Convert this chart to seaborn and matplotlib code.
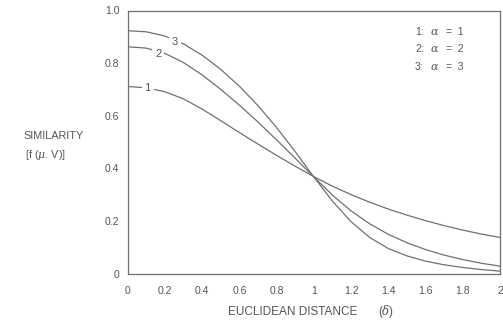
import numpy as np
import pandas as pd
import matplotlib
matplotlib.use("Agg")
import matplotlib.pyplot as plt
import seaborn as sns

distance = [0.0, 0.1, 0.2, 0.3, 0.4, 0.5, 0.6, 0.7, 0.8, 0.9, 1.0,
            1.1, 1.2, 1.3, 1.4, 1.5, 1.6, 1.7, 1.8, 1.9, 2.0]
sim_alpha1 = [0.711, 0.706, 0.691, 0.664, 0.625, 0.581, 0.536, 0.492, 0.449, 0.408, 0.368,
              0.332, 0.300, 0.271, 0.245, 0.222, 0.201, 0.182, 0.165, 0.150, 0.137]
sim_alpha2 = [0.862, 0.857, 0.837, 0.802, 0.755, 0.700, 0.640, 0.576, 0.508, 0.438, 0.367,
              0.298, 0.238, 0.189, 0.149, 0.117, 0.091, 0.070, 0.053, 0.039, 0.028]
sim_alpha3 = [0.923, 0.919, 0.903, 0.873, 0.830, 0.776, 0.712, 0.638, 0.555, 0.463, 0.367,
              0.275, 0.197, 0.137, 0.095, 0.067, 0.047, 0.033, 0.023, 0.015, 0.009]
curve_names = ["1", "2", "3"]
legend_nums = ["1:", "2:", "3:"]
legend_vals = ["=  1", "=  2", "=  3"]
x_ticks = [0, 0.2, 0.4, 0.6, 0.8, 1.0, 1.2, 1.4, 1.6, 1.8, 2.0]
x_tick_labels = ["0", "0.2", "0.4", "0.6", "0.8", "1", "1.2", "1.4", "1.6", "1.8", "2"]
y_ticks = [0, 0.2, 0.4, 0.6, 0.8, 1.0]
y_tick_labels = ["0", "0.2", "0.4", "0.6", "0.8", "1.0"]
# curve label anchors (distance, similarity)
label_pos = {"1": (0.107, 0.704), "2": (0.164, 0.834), "3": (0.254, 0.882)}

df = pd.concat([
    pd.DataFrame({"distance": distance, "similarity": vals, "curve": name})
    for name, vals in zip(curve_names, [sim_alpha1, sim_alpha2, sim_alpha3])
])

sns.set_style("white")
plt.rcParams["font.family"] = ["Liberation Sans", "DejaVu Sans"]
plt.rcParams["mathtext.fontset"] = "dejavuserif"

TXT = "#555555"
LINE = "#707070"

fig = plt.figure(figsize=(5.03, 3.21), dpi=100)
ax = fig.add_axes([127.7 / 503, 1 - 273.5 / 321, (500 - 127.7) / 503, 263 / 321])

sns.lineplot(data=df, x="distance", y="similarity", hue="curve",
             palette={n: LINE for n in curve_names}, linewidth=0.9,
             legend=False, ax=ax)

for name, (lx, ly) in label_pos.items():
    ax.text(lx, ly, name, fontsize=8, color=TXT, ha="center", va="center",
            bbox=dict(boxstyle="square,pad=0.25", fc="white", ec="none"), zorder=5)

ax.set_xlim(0, 2)
ax.set_ylim(0, 1.0)
ax.set_xticks(x_ticks)
ax.set_xticklabels(x_tick_labels)
ax.set_yticks(y_ticks)
ax.set_yticklabels(y_tick_labels)
ax.tick_params(axis="both", direction="out", length=4, width=0.8,
               color=LINE, labelcolor=TXT, labelsize=7.5, pad=2)
ax.tick_params(axis="x", pad=5)
for s in ax.spines.values():
    s.set_visible(True)
    s.set_color(LINE)
    s.set_linewidth(0.9)
ax.set_xlabel("")
ax.set_ylabel("")

fig.text(228 / 503, 1 - 312 / 321, "EUCLIDEAN DISTANCE", fontsize=8.5, color=TXT,
         ha="left", va="center")
fig.text(386 / 503, 1 - 312 / 321, "($\\delta$)", fontsize=8.5, color=TXT,
         ha="center", va="center")
fig.text(23 / 503, 1 - 136 / 321, "SIMILARITY", fontsize=7.8, color=TXT,
         ha="left", va="center")
fig.text(25 / 503, 1 - 155 / 321, "[f ($\\mu$. V)]", fontsize=7.8, color=TXT,
         ha="left", va="center")

for i in range(3):
    yy = 1 - (32 + 17.5 * i) / 321
    fig.text(415 / 503, yy, legend_nums[i], fontsize=7.5, color=TXT,
             ha="left", va="center")
    fig.text(430 / 503, yy, "$\\alpha$", fontsize=8, color=TXT,
             ha="left", va="center")
    fig.text(446 / 503, yy, legend_vals[i], fontsize=7.5, color=TXT,
             ha="left", va="center")

fig.savefig("out.png", dpi=100, facecolor="white")
